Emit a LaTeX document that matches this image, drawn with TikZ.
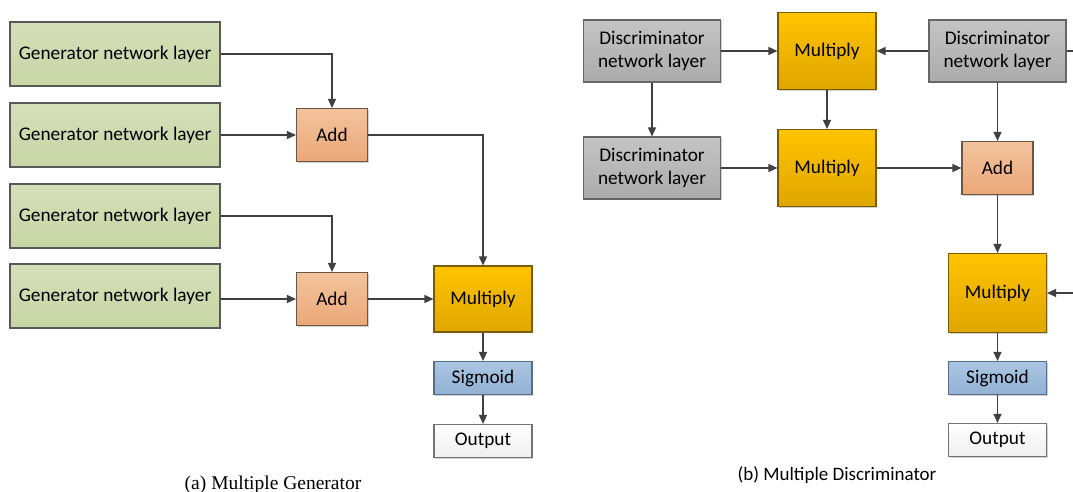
\documentclass[tikz,border=0pt]{standalone}
\usepackage{fontspec}
\setmainfont{Carlito}
\newfontfamily\capserif{Liberation Serif}
\usetikzlibrary{arrows.meta,shadows}

\definecolor{edgegray}{HTML}{404040}
\definecolor{genA}{HTML}{D5DFBA}
\definecolor{genB}{HTML}{C8D5A4}
\definecolor{discA}{HTML}{C4C4C4}
\definecolor{discB}{HTML}{ABABAB}
\definecolor{addA}{HTML}{F3C39E}
\definecolor{addB}{HTML}{EBA878}
\definecolor{addE}{HTML}{6E5444}
\definecolor{mulA}{HTML}{FFC400}
\definecolor{mulB}{HTML}{DFA600}
\definecolor{mulE}{HTML}{7A5C00}
\definecolor{sigA}{HTML}{ABC6E2}
\definecolor{sigB}{HTML}{91B1D4}
\definecolor{sigE}{HTML}{566E8C}
\definecolor{outB}{HTML}{EFEFEF}

\tikzset{
  gen/.style={draw=black!65, line width=1.1pt, inner sep=0pt, align=center,
    font=\fontsize{19.3}{23.5}\selectfont,
    drop shadow={shadow xshift=1.3pt, shadow yshift=-1.3pt, opacity=0.18, fill=black},
    top color=genA, bottom color=genB, minimum width=210pt, minimum height=64pt},
  disc/.style={gen, top color=discA, bottom color=discB, draw=black!60,
    minimum width=137pt, minimum height=62pt},
  addbox/.style={gen, top color=addA, bottom color=addB, draw=addE,
    minimum width=71pt, minimum height=53pt},
  mulbox/.style={gen, top color=mulA, bottom color=mulB, draw=mulE,
    minimum width=98pt, minimum height=66pt},
  sigbox/.style={gen, top color=sigA, bottom color=sigB, draw=sigE,
    minimum width=98pt, minimum height=33pt},
  outbox/.style={gen, top color=white, bottom color=outB, draw=black!55,
    minimum width=98pt, minimum height=33pt},
  arr/.style={draw=edgegray, line width=1.2pt, -{Triangle[length=9pt,width=8pt]}},
  wire/.style={draw=edgegray, line width=1.2pt},
}

\begin{document}
\begin{tikzpicture}[x=1pt, y=-1pt]
\useasboundingbox (0,0) rectangle (1073,492);
\clip (0,0) rectangle (1073,492);

% ---- (a) multiple generator ----
\node[gen] (g1) at (115,54)  {Generator network layer};
\node[gen] (g2) at (115,135) {Generator network layer};
\node[gen] (g3) at (115,216) {Generator network layer};
\node[gen] (g4) at (115,296) {Generator network layer};
\node[addbox] (a1) at (332,135) {Add};
\node[addbox] (a2) at (332,299) {Add};
\node[mulbox] (m0) at (483,299) {Multiply};
\node[sigbox] (s0) at (483,378) {Sigmoid};
\node[outbox] (o0) at (483,441) {Output};

\draw[arr] (g1.east) -| (a1.north);
\draw[arr] (g2.east) -- (a1.west);
\draw[arr] (g3.east) -| (a2.north);
\draw[arr] (g4.east |- a2.west) -- (a2.west);
\draw[arr] (a1.east) -| (m0.north);
\draw[arr] (a2.east) -- (m0.west);
\draw[arr] (m0.south) -- (s0.north);
\draw[arr] (s0.south) -- (o0.north);

\node[font=\capserif\fontsize{19.5}{22}\selectfont, anchor=base] (capa) at (273,489)
  {(a) Multiple Generator};

% ---- (b) multiple discriminator ----
\node[disc] (d1) at (652,51)  {Discriminator\\network layer};
\node[disc] (d2) at (652,168) {Discriminator\\network layer};
\node[disc] (d3) at (997.5,51)  {Discriminator\\network layer};
\node[mulbox, minimum height=77pt] (m1) at (827,51)  {Multiply};
\node[mulbox, minimum height=77pt] (m2) at (827,168) {Multiply};
\node[addbox] (a3) at (997.5,168) {Add};
\node[mulbox, minimum height=79pt] (m3) at (997.5,293) {Multiply};
\node[sigbox] (s3) at (997.5,378) {Sigmoid};
\node[outbox] (o3) at (997.5,440) {Output};

\coordinate (r1) at (1090,51);
\coordinate (r2) at (1090,293);

\draw[arr] (d1.east) -- (m1.west);
\draw[arr] (d1.south) -- (d2.north);
\draw[arr] (d3.west) -- (m1.east);
\draw[wire] (d3.east) -- (r1);
\draw[arr] (m1.south) -- (m2.north);
\draw[arr] (d2.east) -- (m2.west);
\draw[arr] (m2.east) -- (a3.west);
\draw[arr] (d3.south) -- (a3.north);
\draw[arr] (a3.south) -- (m3.north);
\draw[arr] (r2) -- (m3.east);
\draw[arr] (m3.south) -- (s3.north);
\draw[arr] (s3.south) -- (o3.north);

\node[font=\fontsize{19}{22}\selectfont, anchor=base] (capb) at (837,480)
  {(b) Multiple Discriminator};
\end{tikzpicture}
\end{document}
